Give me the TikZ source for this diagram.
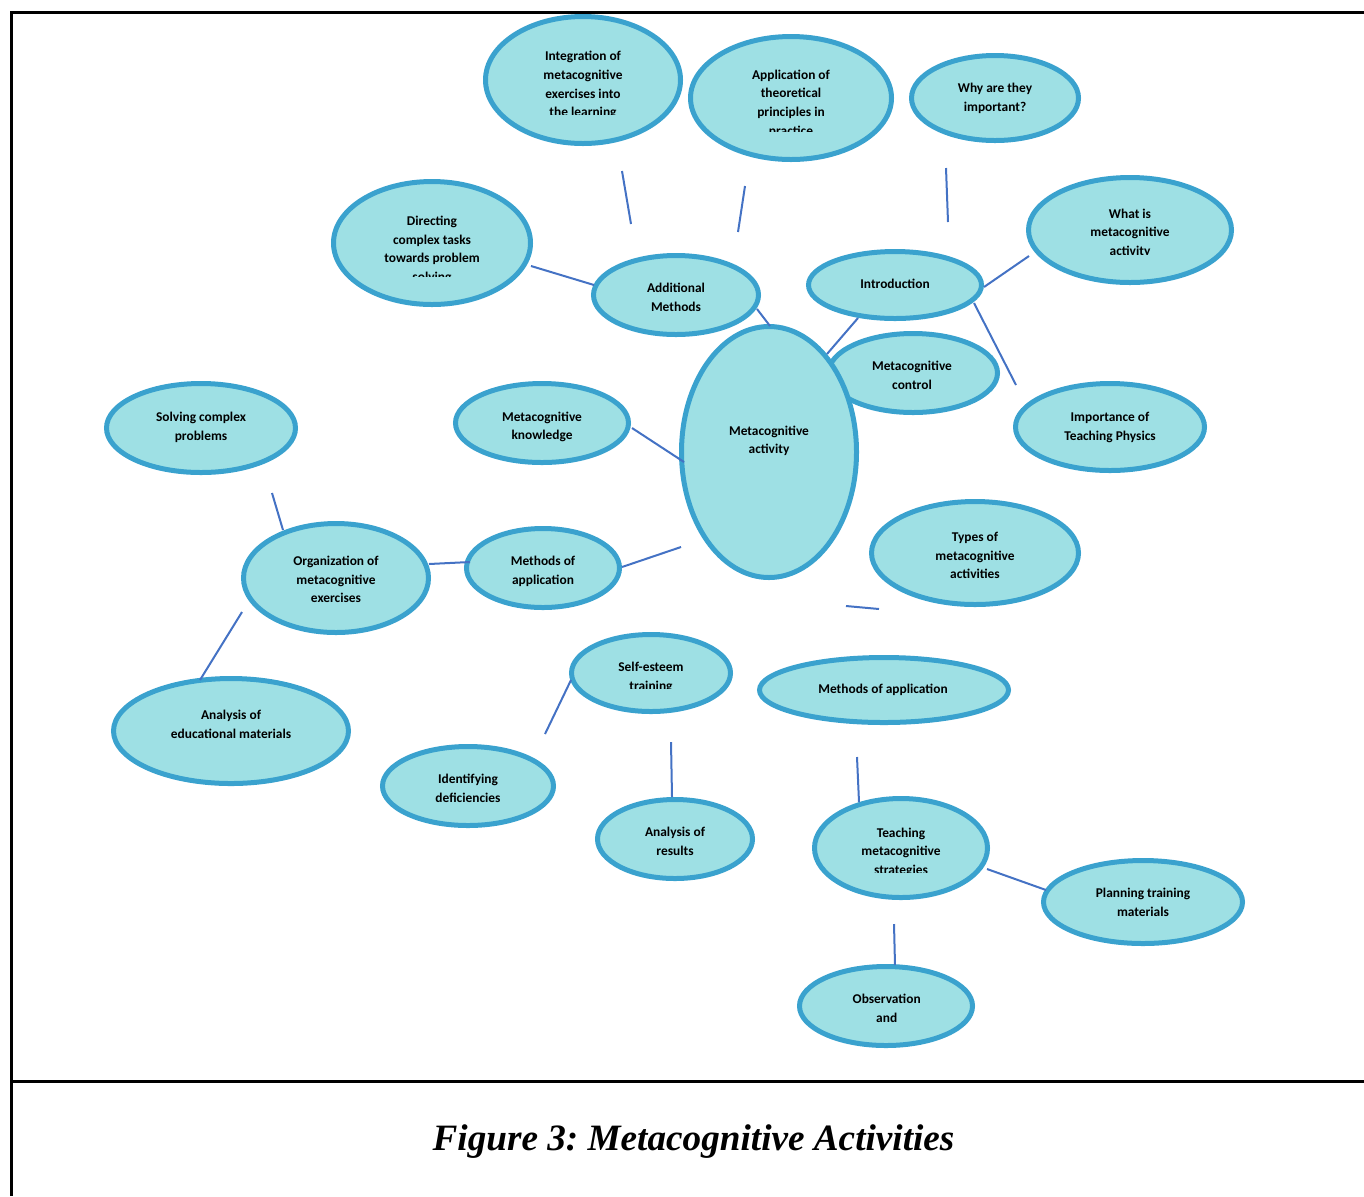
\documentclass[tikz,border=0pt]{standalone}
\usepackage{fontspec}
\setmainfont{Carlito}
\newfontfamily\capfont{Liberation Serif}
\usetikzlibrary{shapes.geometric}
\definecolor{bubfill}{RGB}{158,224,228}
\definecolor{bubline}{RGB}{58,162,206}
\definecolor{conn}{RGB}{68,114,196}
\newcommand\bubble[5]{\node[bub, minimum width={(#4-2.5)*1pt}, minimum height={(#5-2.5)*1pt}] (#1) at (#2,#3) {};}
\tikzset{
  bub/.style={ellipse, draw=bubline, fill=bubfill, line width=2.5pt, inner sep=0pt},
  txt/.style={font=\bfseries\fontsize{6.7}{9.35}\selectfont, align=center, inner sep=0pt, yshift=-1.5pt,
              execute at begin node=\strut, execute at end node=\strut},
  cn/.style={draw=conn, line width=1pt},
  frame/.style={line width=1.5pt, black}
}
\begin{document}
\begin{tikzpicture}[x=0.5pt, y=-0.5pt]
\useasboundingbox (0,0) rectangle (1364,1196);
% frame
\coordinate (ftl) at (11,12);
\coordinate (ftr) at (1364,12);
\coordinate (fbl) at (11,1196);
\coordinate (fml) at (11,1081);
\coordinate (fmr) at (1364,1081);
\draw[frame] (ftr) -- (ftl) -- (fbl);
\draw[frame] (fml) -- (fmr);

% bubbles
\bubble{integ}{583}{80}{100}{66}
\bubble{appl}{791}{98}{103}{64}
\bubble{why}{995}{98}{86}{45}
\bubble{direct}{432}{243}{101}{64}
\bubble{add}{676}{295}{85}{42}
\bubble{intro}{895}{285}{89}{36}
\bubble{what}{1130}{230}{104}{55}
\bubble{control}{913}{373}{87}{42}
\bubble{central}{769}{452}{90}{128}
\bubble{imp}{1110}{427}{97}{46}
\bubble{solv}{201}{428}{97}{47}
\bubble{know}{542}{423}{89}{42}
\bubble{types}{975}{553}{106}{54}
\bubble{org}{336}{578}{95}{57}
\bubble{methL}{543}{568}{79}{42}
\bubble{self}{651}{673}{82}{41}
\bubble{methR}{884}{690}{127}{35}
\bubble{analmat}{231}{731}{120}{55}
\bubble{ident}{468}{786}{88}{42}
\bubble{analres}{675}{839}{80}{42}
\bubble{teach}{901}{848}{89}{52}
\bubble{plan}{1143}{902}{102}{44}
\bubble{obs}{886}{1006}{89}{42}

% texts
\begin{scope}
\clip (480,20) rectangle (690,114);
\node[txt] (tinteg) at (583,84) {Integration of\\metacognitive\\exercises into\\the learning};
\end{scope}
\begin{scope}
\clip (690,40) rectangle (890,131);
\node[txt] (tappl) at (791,102.3) {Application of\\theoretical\\principles in\\practice};
\end{scope}
\node[txt] (twhy) at (995,97) {Why are they\\important?};
\begin{scope}
\clip (335,185) rectangle (530,276);
\node[txt] (tdirect) at (432,248.7) {Directing\\complex tasks\\towards problem\\solving};
\end{scope}
\node[txt] (tadd) at (676,297) {Additional\\Methods};
\node[txt] (tintro) at (895,282) {Introduction};
\begin{scope}
\clip (1030,180) rectangle (1230,254.5);
\node[txt] (twhat) at (1130,231.8) {What is\\metacognitive\\activity};
\end{scope}
\node[txt] (tcontrol) at (912,375) {Metacognitive\\control};
\node[txt] (tcentral) at (769,439.5) {Metacognitive\\activity};
\node[txt] (timp) at (1110,426) {Importance of\\Teaching Physics};
\node[txt] (tsolv) at (201,426) {Solving complex\\problems};
\node[txt] (tknow) at (542,425.5) {Metacognitive\\knowledge};
\node[txt] (ttypes) at (975,555.3) {Types of\\metacognitive\\activities};
\node[txt] (torg) at (336,579.3) {Organization of\\metacognitive\\exercises};
\node[txt] (tmethL) at (543,570) {Methods of\\application};
\begin{scope}
\clip (570,640) rectangle (730,688.3);
\node[txt] (tself) at (651,675.8) {Self-esteem\\training};
\end{scope}
\node[txt] (tmethR) at (883,686.7) {Methods of application};
\node[txt] (tanalmat) at (231,724) {Analysis of\\educational materials};
\node[txt] (tident) at (468,788) {Identifying\\deficiencies};
\node[txt] (tanalres) at (675,841.3) {Analysis of\\results};
\begin{scope}
\clip (815,800) rectangle (985,872);
\node[txt] (tteach) at (901,851) {Teaching\\metacognitive\\strategies};
\end{scope}
\node[txt] (tplan) at (1143,902.2) {Planning training\\materials};
\node[txt] (tobs) at (886.7,1007.8) {Observation\\and};

% connector end points
\coordinate (a1) at (622,171);  \coordinate (a2) at (631,224);
\coordinate (b1) at (745,186);  \coordinate (b2) at (738,232);
\coordinate (c1) at (946,168);  \coordinate (c2) at (948,222);
\coordinate (d1) at (531,266);  \coordinate (d2) at (594,285);
\coordinate (e1) at (757,309);  \coordinate (e2) at (770,326);
\coordinate (f1) at (984,287);  \coordinate (f2) at (1029,256);
\coordinate (g1) at (974,303);  \coordinate (g2) at (1016,385);
\coordinate (h1) at (858,318);  \coordinate (h2) at (827,354);
\coordinate (i1) at (632,428);  \coordinate (i2) at (684,462);
\coordinate (j1) at (272,493);  \coordinate (j2) at (283,530);
\coordinate (k1) at (429,564);  \coordinate (k2) at (470,562);
\coordinate (l1) at (622,567);  \coordinate (l2) at (681,547);
\coordinate (m1) at (242,612);  \coordinate (m2) at (200,680);
\coordinate (n1) at (846,606);  \coordinate (n2) at (879,609);
\coordinate (o1) at (571,680);  \coordinate (o2) at (545,734);
\coordinate (p1) at (671,742);  \coordinate (p2) at (672,797);
\coordinate (q1) at (857,757);  \coordinate (q2) at (859,802);
\coordinate (r1) at (987,869);  \coordinate (r2) at (1046,890);
\coordinate (s1) at (894,924);  \coordinate (s2) at (895,965);

\foreach \u in {a,b,c,d,e,f,g,h,i,j,k,l,m,n,o,p,q,r,s}
  \draw[cn] (\u1) -- (\u2);

% caption
\node[font=\capfont\bfseries\itshape\fontsize{18.6}{22}\selectfont, anchor=base, inner sep=0pt, execute at begin node=\frenchspacing] (cap) at (693.5,1150) {Figure 3: Metacognitive Activities};
\end{tikzpicture}
\end{document}
